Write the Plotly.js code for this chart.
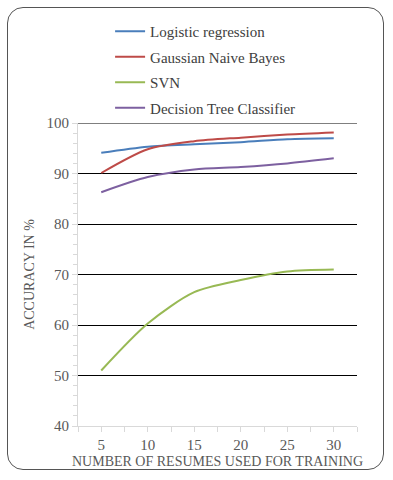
<!DOCTYPE html>
<html>
<head>
<meta charset="utf-8">
<script src="https://cdn.plot.ly/plotly-3.0.1.min.js"></script>
<style>
  html, body { margin: 0; padding: 0; background: #fff; }
  #frame {
    position: absolute; left: 7px; top: 7px; width: 377px; height: 463px;
    border: 1.5px solid #555; border-radius: 16px; box-sizing: border-box;
  }
  #chart { position: absolute; left: 0; top: 0; width: 393px; height: 480px; }
</style>
</head>
<body>
<div id="frame"></div>
<div id="chart"></div>
<script>
const resumes = [5, 10, 15, 20, 25, 30];
const logistic = [94.1, 95.3, 95.8, 96.2, 96.8, 97.0];
const gaussian = [90.1, 94.8, 96.4, 97.1, 97.7, 98.1];
const svn = [51.0, 60.3, 66.5, 68.9, 70.6, 71.0];
const decisionTree = [86.3, 89.3, 90.8, 91.3, 92.0, 93.0];

const seriesNames = ['Logistic regression', 'Gaussian Naive Bayes', 'SVN', 'Decision Tree Classifier'];
const seriesValues = [logistic, gaussian, svn, decisionTree];
const colors = ['#4a7ebb', '#be4b48', '#98b954', '#7d60a0'];

const xTickVals = [2.5, 5, 7.5, 10, 12.5, 15, 17.5, 20, 22.5, 25, 27.5, 30, 32.5];
const xTickText = xTickVals.map((v) => (v % 5 === 0 ? String(v) : ''));
const yTop = 100;

const traces = seriesNames.map((name, i) => ({
  x: resumes,
  y: seriesValues[i],
  type: 'scatter',
  mode: 'lines',
  name,
  legendgroup: 'g' + i,
  line: { color: colors[i], width: 2, shape: 'spline', smoothing: 0.8 },
}));

const serif = 'Liberation Serif';

const layout = {
  width: 393,
  height: 480,
  paper_bgcolor: 'rgba(0,0,0,0)',
  plot_bgcolor: 'rgba(0,0,0,0)',
  margin: { l: 78, r: 36, t: 123, b: 54, autoexpand: false },
  font: { family: serif, color: '#404040', size: 13 },
  showlegend: true,
  legend: {
    x: 0.115, xanchor: 'left',
    yref: 'container', y: 1 - 15 / 480, yanchor: 'top',
    font: { family: serif, size: 15, color: '#404040' },
    tracegroupgap: 3,
    bgcolor: 'rgba(0,0,0,0)',
  },
  // top gridline at 100 (edge gridlines are skipped by plotly)
  shapes: [
    { type: 'line', xref: 'paper', yref: 'y', x0: 0, x1: 1, y0: yTop, y1: yTop, line: { color: '#000000', width: 1 }, layer: 'below' },
  ],
  xaxis: {
    range: [2.5, 32.5],
    tickmode: 'array',
    tickvals: xTickVals,
    ticktext: xTickText,
    ticks: 'outside',
    ticklen: 5,
    tickcolor: '#d9d9d9',
    showline: true,
    linecolor: '#d9d9d9',
    linewidth: 1,
    showgrid: false,
    zeroline: false,
    tickfont: { family: serif, size: 15, color: '#595959' },
    title: { text: 'NUMBER OF RESUMES USED FOR TRAINING', font: { family: serif, size: 14, color: '#595959' }, standoff: 4 },
  },
  yaxis: {
    range: [40, yTop],
    tick0: 40,
    dtick: 10,
    ticks: 'outside',
    ticklen: 5,
    tickcolor: '#d9d9d9',
    showline: true,
    linecolor: '#d9d9d9',
    linewidth: 1,
    showgrid: true,
    gridcolor: '#000000',
    gridwidth: 1,
    zeroline: false,
    minor: { dtick: 2, ticks: 'outside', ticklen: 4, tickcolor: '#d9d9d9', showgrid: false },
    tickfont: { family: serif, size: 15, color: '#595959' },
    title: { text: 'ACCURACY IN %', font: { family: serif, size: 14, color: '#595959' }, standoff: 8 },
  },
};

Plotly.newPlot('chart', traces, layout, { displayModeBar: false, staticPlot: true });
</script>
</body>
</html>
